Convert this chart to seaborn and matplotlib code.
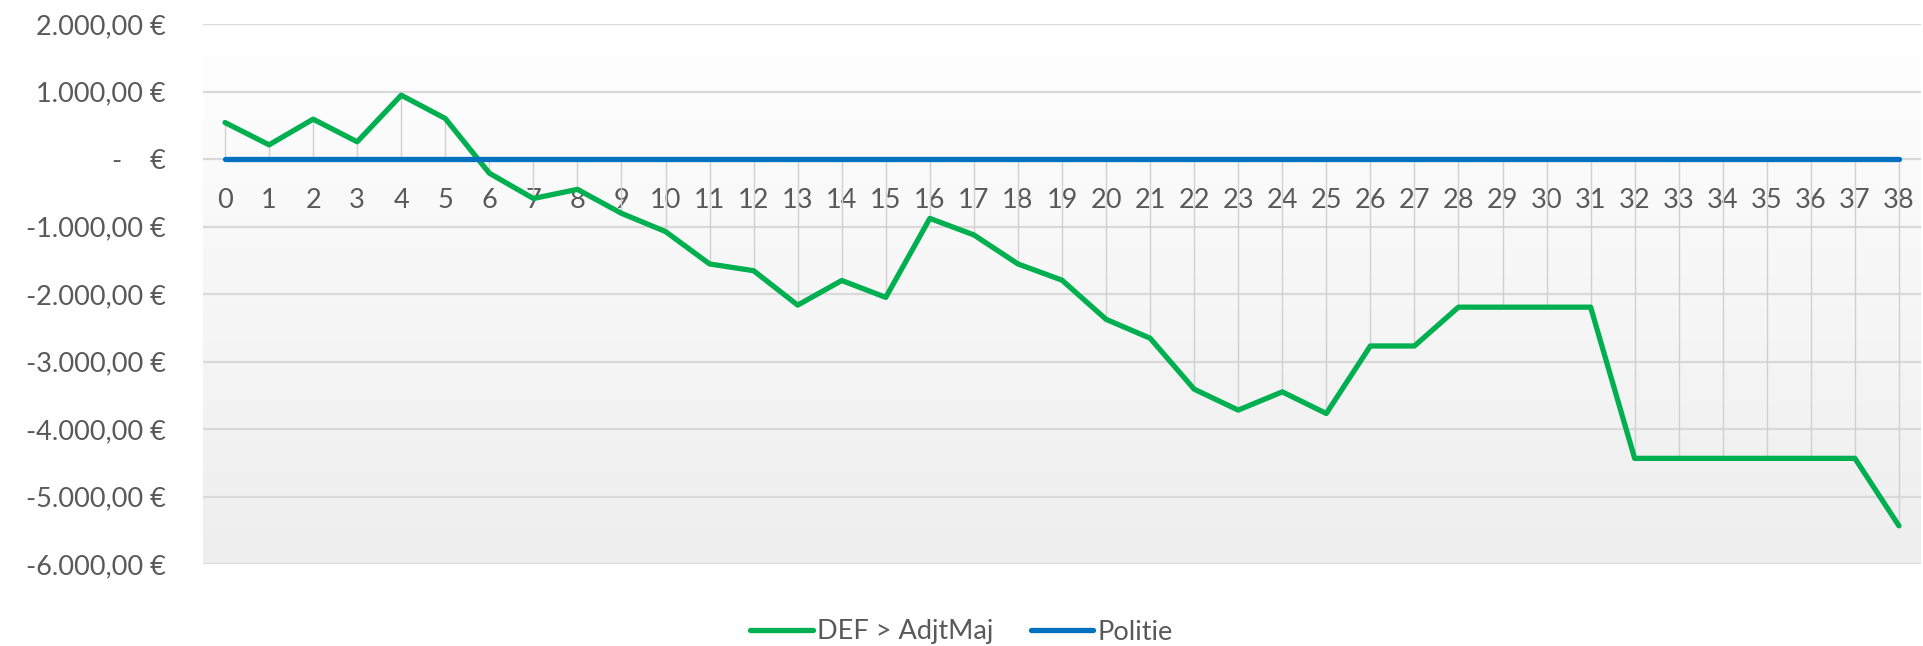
import numpy as np
import pandas as pd
import seaborn as sns
import matplotlib.pyplot as plt
from matplotlib.colors import LinearSegmentedColormap
from matplotlib.lines import Line2D

# chart values
periods = list(range(39))
def_adjtmaj = [540, 210, 590, 255, 945, 600, -210, -585, -450, -805,
               -1075, -1555, -1655, -2165, -1800, -2050, -880, -1125, -1555, -1795,
               -2375, -2655, -3410, -3720, -3450, -3770, -2770, -2770, -2195, -2195,
               -2195, -2195, -4435, -4435, -4435, -4435, -4435, -4435, -5435]
politie = [0] * 39
series_names = ['DEF > AdjtMaj', 'Politie']
colors = ['#00b050', '#0070c0']
y_ticks = list(range(-6000, 2001, 1000))

df = pd.DataFrame({
    'Periode': periods * 2,
    'Bedrag': def_adjtmaj + politie,
    'Reeks': [series_names[0]] * 39 + [series_names[1]] * 39,
})

sns.set_theme(style='white')
plt.rcParams['font.family'] = ['Lato', 'DejaVu Sans']
text_color = '#595959'
fs = 19.5


def eur(v, pos=None):
    if v == 0:
        return '-    €'
    s = f'{v:,.2f}'.replace(',', 'X').replace('.', ',').replace('X', '.')
    return s + ' €'


fig = plt.figure(figsize=(19.23, 6.46), dpi=100)
ax = fig.add_axes([203 / 1923, 1 - 564 / 646, 1718 / 1923, 540 / 646])

# soft vertical gradient behind the plot area (white at top, light grey at bottom)
grad = np.linspace(0, 1, 256).reshape(-1, 1)
cmap = LinearSegmentedColormap.from_list('bg', ['#ffffff', '#eeeeee'])
ax.imshow(grad, extent=[-0.5, 38.5, -6000, 2000], origin='upper',
          aspect='auto', cmap=cmap, zorder=0)

# horizontal gridlines
for t in y_ticks:
    ax.axhline(t, color='#d9d9d9', lw=1.6, zorder=1)

# drop lines from each point to the axis
ax.vlines(periods, 0, def_adjtmaj, color='#d0d0d0', lw=1.0, zorder=1)

sns.lineplot(data=df, x='Periode', y='Bedrag', hue='Reeks', hue_order=series_names,
             palette=colors, lw=3.8, ax=ax, legend=False, zorder=3)
for line in ax.lines:
    line.set_solid_capstyle('round')

ax.set_xlim(-0.5, 38.5)
ax.set_ylim(-6000, 2000)
ax.set_yticks(y_ticks)
ax.yaxis.set_major_formatter(plt.FuncFormatter(eur))
ax.set_xticks(periods)
ax.set_xticklabels([str(p) for p in periods])
ax.spines['bottom'].set_position(('data', 0))
for s in ax.spines.values():
    s.set_visible(False)
ax.tick_params(axis='y', length=0, pad=27, labelsize=fs, labelcolor=text_color)
ax.tick_params(axis='x', length=0, pad=21, labelsize=fs, labelcolor=text_color)
ax.set_xlabel('')
ax.set_ylabel('')

handles = [Line2D([0], [0], color=c, lw=3.8, solid_capstyle='round') for c in colors]
fig.legend(handles, series_names, loc='center', bbox_to_anchor=(0.5, 1 - 632 / 646),
           ncol=2, frameon=False, fontsize=fs, handlelength=2.3, handletextpad=0.15,
           columnspacing=1.4, labelcolor=text_color)

fig.savefig('out.png', dpi=100)
